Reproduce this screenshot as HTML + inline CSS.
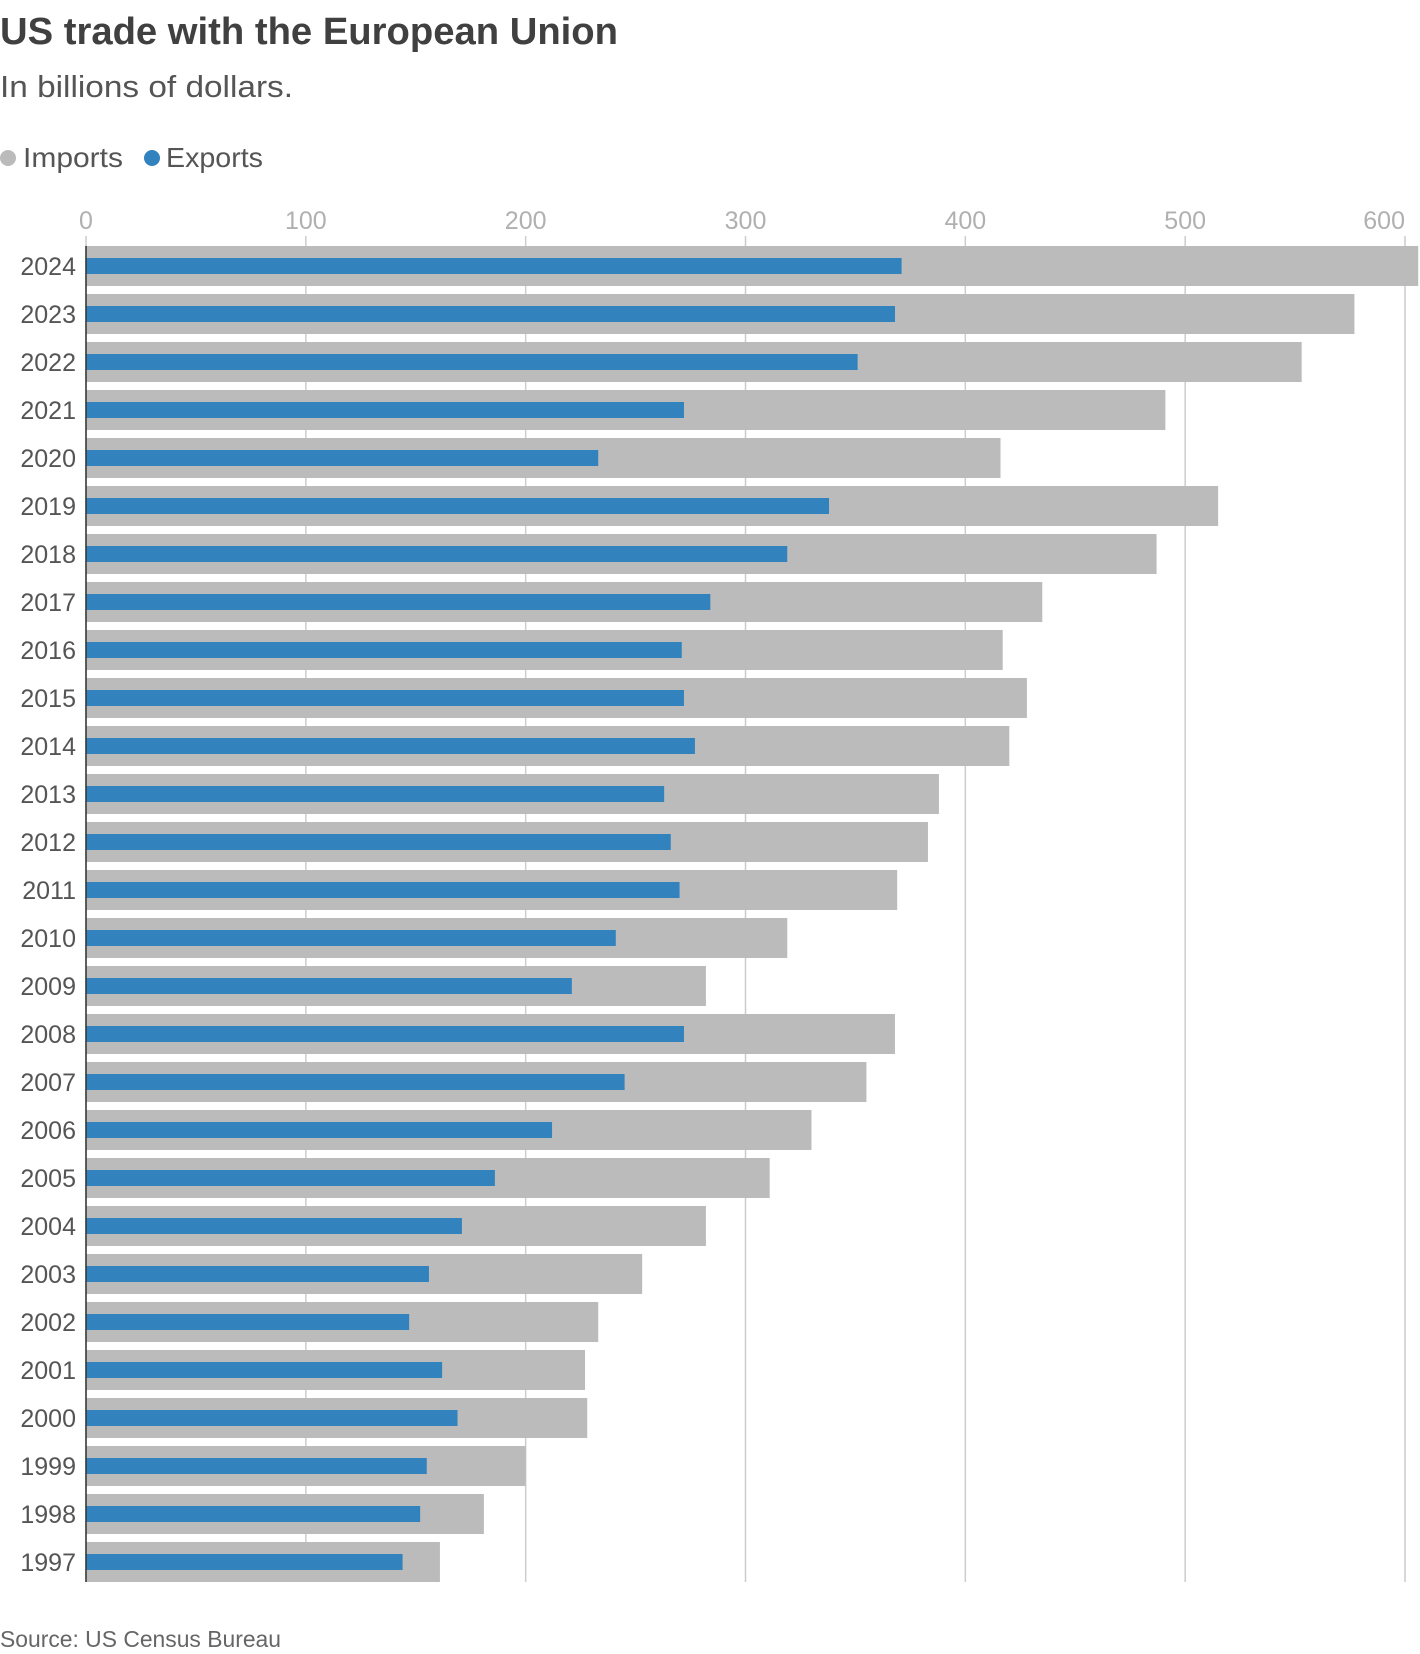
<!DOCTYPE html>
<html><head><meta charset="utf-8"><style>
html,body{margin:0;padding:0;background:#fff;}
svg{display:block;font-family:"Liberation Sans",sans-serif;}
</style></head><body>
<svg id="chart" width="1420" height="1654" viewBox="0 0 1420 1654" xmlns="http://www.w3.org/2000/svg">
<text x="0" y="44" font-size="38" font-weight="bold" fill="#404040" textLength="618" lengthAdjust="spacingAndGlyphs">US trade with the European Union</text>
<text x="0" y="97" font-size="31" fill="#555" textLength="293" lengthAdjust="spacingAndGlyphs">In billions of dollars.</text>
<g>
<circle cx="8" cy="158" r="8" fill="#bbbbbb"/>
<text x="23" y="167" font-size="28" fill="#555" textLength="100" lengthAdjust="spacingAndGlyphs">Imports</text>
<circle cx="152" cy="158" r="8" fill="#3182bd"/>
<text x="166" y="167" font-size="28" fill="#555" textLength="97" lengthAdjust="spacingAndGlyphs">Exports</text>
</g>
<g id="grid"></g><g id="bars"></g><g id="labels"></g>
<text x="0" y="1647" font-size="23" fill="#666" textLength="281" lengthAdjust="spacingAndGlyphs">Source: US Census Bureau</text>
</svg>
<script>
const years = [2024,2023,2022,2021,2020,2019,2018,2017,2016,2015,2014,2013,2012,2011,2010,2009,2008,2007,2006,2005,2004,2003,2002,2001,2000,1999,1998,1997];
const importsVals = [606,577,553,491,416,515,487,435,417,428,420,388,383,369,319,282,368,355,330,311,282,253,233,227,228,200,181,161];
const exportsVals = [371,368,351,272,233,338,319,284,271,272,277,263,266,270,241,221,272,245,212,186,171,156,147,162,169,155,152,144];
const ticks = [0,100,200,300,400,500,600];
const NS="http://www.w3.org/2000/svg";
const x0=86, pxPer=(1405-86)/600, topY=246, pitch=48, barH=40, expH=16;
const X=v=>x0+v*pxPer;
const Y=i=>topY+i*pitch;
function mk(t,a,p){const e=document.createElementNS(NS,t);for(const k in a)e.setAttribute(k,a[k]);p.appendChild(e);return e;}
const grid=document.getElementById('grid'),bars=document.getElementById('bars'),labels=document.getElementById('labels');
const bottomY=Y(years.length-1)+barH;
ticks.forEach((t,k)=>{
  const l=mk('line',{x1:X(t),x2:X(t),y1:topY-10,y2:bottomY,stroke:'#cccccc','stroke-width':1.5},grid);
  
  
  const last=k===ticks.length-1;
  const tx=mk('text',{x:X(t),y:229,'font-size':25,fill:'#b0b0b0','text-anchor':last?'end':'middle'},grid);
  tx.textContent=t;
  
  
});
years.forEach((y,i)=>{
  const r=mk('rect',{x:X(0),y:Y(i),width:X(importsVals[i])-X(0),height:barH,fill:'#bbbbbb'},bars);
  
  
  const b=mk('rect',{x:X(0),y:Y(i)+(barH-expH)/2,width:X(exportsVals[i])-X(0),height:expH,fill:'#3182bd'},bars);
  
  
  const t=mk('text',{x:76,y:Y(i)+29,'font-size':25,fill:'#555','text-anchor':'end'},labels);
  t.textContent=y;
  
  
});
const ax=mk('line',{x1:x0,x2:x0,y1:topY,y2:bottomY,stroke:'#333','stroke-width':1.5},labels);


</script>
</body></html>
